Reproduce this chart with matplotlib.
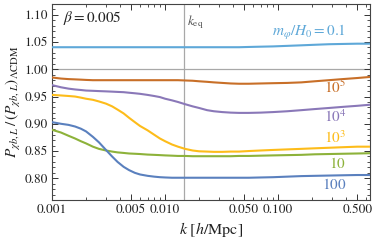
import numpy as np
import matplotlib
matplotlib.use("Agg")
import matplotlib.pyplot as plt
from matplotlib.ticker import FixedLocator, NullFormatter, FixedFormatter, MultipleLocator

plt.rcParams['font.family'] = ['STIXGeneral', 'DejaVu Serif']
plt.rcParams['mathtext.fontset'] = 'stix'

k = [0.001, 0.0012, 0.0014, 0.0016, 0.0018, 0.002, 0.0023, 0.0026, 0.003, 0.0034,
     0.0038, 0.0043, 0.0048, 0.0054, 0.006, 0.007, 0.008, 0.009, 0.01, 0.0115,
     0.013, 0.015, 0.0175, 0.02, 0.0235, 0.027, 0.032, 0.038, 0.045, 0.055,
     0.07, 0.09, 0.12, 0.16, 0.21, 0.28, 0.37, 0.5, 0.65]

r_01 = [1.0405, 1.0405, 1.0405, 1.0405, 1.0405, 1.0405, 1.0405, 1.0405, 1.0405, 1.0405,
        1.0405, 1.0405, 1.0405, 1.0405, 1.0405, 1.0405, 1.0405, 1.0405, 1.0405, 1.0405,
        1.0405, 1.0405, 1.0405, 1.0405, 1.0405, 1.0405, 1.0405, 1.0405, 1.0405, 1.041,
        1.0415, 1.042, 1.043, 1.044, 1.045, 1.046, 1.0465, 1.047, 1.047]
r_1e5 = [0.985, 0.983, 0.982, 0.9815, 0.981, 0.9805, 0.980, 0.980, 0.980, 0.980,
         0.980, 0.980, 0.980, 0.980, 0.980, 0.980, 0.980, 0.980, 0.980, 0.980,
         0.980, 0.9795, 0.979, 0.978, 0.977, 0.976, 0.975, 0.974, 0.9735, 0.9735,
         0.974, 0.9745, 0.975, 0.976, 0.978, 0.980, 0.982, 0.984, 0.986]
r_1e4 = [0.971, 0.967, 0.9645, 0.963, 0.962, 0.961, 0.9605, 0.960, 0.9595, 0.959,
         0.9585, 0.958, 0.957, 0.956, 0.955, 0.953, 0.951, 0.949, 0.946, 0.943,
         0.940, 0.936, 0.932, 0.929, 0.925, 0.923, 0.9215, 0.9205, 0.920, 0.920,
         0.9205, 0.9215, 0.923, 0.925, 0.927, 0.929, 0.931, 0.933, 0.935]
r_1e3 = [0.953, 0.952, 0.951, 0.950, 0.948, 0.946, 0.944, 0.941, 0.937, 0.932,
         0.926, 0.919, 0.911, 0.903, 0.896, 0.888, 0.880, 0.873, 0.868, 0.862,
         0.858, 0.854, 0.851, 0.8495, 0.849, 0.8485, 0.8485, 0.849, 0.849, 0.850,
         0.851, 0.852, 0.853, 0.854, 0.855, 0.856, 0.857, 0.858, 0.858]
r_10 = [0.889, 0.884, 0.878, 0.873, 0.868, 0.864, 0.858, 0.854, 0.851, 0.849,
        0.8475, 0.8465, 0.8455, 0.845, 0.8445, 0.8435, 0.843, 0.8425, 0.842, 0.8415,
        0.841, 0.841, 0.8405, 0.8405, 0.8405, 0.8405, 0.8405, 0.8405, 0.841, 0.841,
        0.8415, 0.842, 0.8425, 0.843, 0.844, 0.8445, 0.845, 0.8455, 0.846]
r_100 = [0.903, 0.900, 0.898, 0.895, 0.891, 0.886, 0.876, 0.866, 0.852, 0.840,
         0.830, 0.821, 0.815, 0.810, 0.807, 0.8045, 0.803, 0.802, 0.8015, 0.801,
         0.801, 0.801, 0.801, 0.801, 0.801, 0.801, 0.801, 0.801, 0.801, 0.801,
         0.8015, 0.802, 0.803, 0.804, 0.8045, 0.805, 0.8055, 0.806, 0.806]

k_eq = 0.0148
xticks = [0.001, 0.005, 0.010, 0.050, 0.100, 0.500]
xticklabels = ["0.001", "0.005", "0.010", "0.050", "0.100", "0.500"]
yticks = [0.80, 0.85, 0.90, 0.95, 1.00, 1.05, 1.10]
yticklabels = ["0.80", "0.85", "0.90", "0.95", "1.00", "1.05", "1.10"]

series = [
    (r_01, '#5ea8d8', r'$m_\varphi/H_0 = 0.1$', 0.852),
    (r_1e5, '#c86f28', r'$10^5$', 0.575),
    (r_1e4, '#8a78b8', r'$10^4$', 0.427),
    (r_1e3, '#fdbc1a', r'$10^3$', 0.320),
    (r_10, '#8db23a', r'$10$', 0.189),
    (r_100, '#5a80be', r'$100$', 0.077),
]

fig = plt.figure(figsize=(3.73, 2.44), dpi=100)
ax = fig.add_axes([0.1394, 0.180, 0.853, 0.804])

ax.axhline(1.0, color='#a8a8a8', lw=0.9, zorder=1)
ax.axvline(k_eq, color='#a8a8a8', lw=0.9, zorder=1)

for vals, c, lab, ly in series:
    ax.plot(k, vals, color=c, lw=1.5, zorder=3)
    ax.text(0.925, ly, lab, transform=ax.transAxes, color=c, fontsize=11,
            ha='right', va='center')

ax.text(0.035, 0.93, r'$\beta = 0.005$', transform=ax.transAxes, fontsize=11,
        color='#222222', ha='left', va='center')
ax.text(0.425, 0.905, r'$k_{\rm eq}$', transform=ax.transAxes, fontsize=9.5,
        color='#555555', ha='left', va='center')

ax.set_xscale('log')
ax.set_xlim(0.001, 0.65)
ax.set_ylim(0.76, 1.12)

ax.xaxis.set_major_locator(FixedLocator(xticks))
ax.xaxis.set_major_formatter(FixedFormatter(xticklabels))
minors = [m * 10.0 ** e for e in range(-3, 0) for m in range(1, 10)]
ax.xaxis.set_minor_locator(FixedLocator(minors))
ax.xaxis.set_minor_formatter(NullFormatter())
ax.yaxis.set_major_locator(FixedLocator(yticks))
ax.yaxis.set_major_formatter(FixedFormatter(yticklabels))
ax.yaxis.set_minor_locator(MultipleLocator(0.01))

ax.tick_params(which='both', direction='in', top=True, right=True,
               color='#333333', labelsize=9.5, labelcolor='#222222', pad=3)
ax.tick_params(which='major', length=4, width=0.7)
ax.tick_params(which='minor', length=2, width=0.6)
for s in ax.spines.values():
    s.set_color('#444444')
    s.set_linewidth(0.8)

ax.set_xlabel(r'$k\ [h/\mathrm{Mpc}]$', fontsize=11.5, color='#222222', labelpad=3)
ax.set_ylabel(r'$P_{\chi b,L}\,/\,(P_{\chi b,L})_{\Lambda\mathrm{CDM}}$', fontsize=11,
              color='#222222', labelpad=1)

fig.savefig('out.png', dpi=100)
